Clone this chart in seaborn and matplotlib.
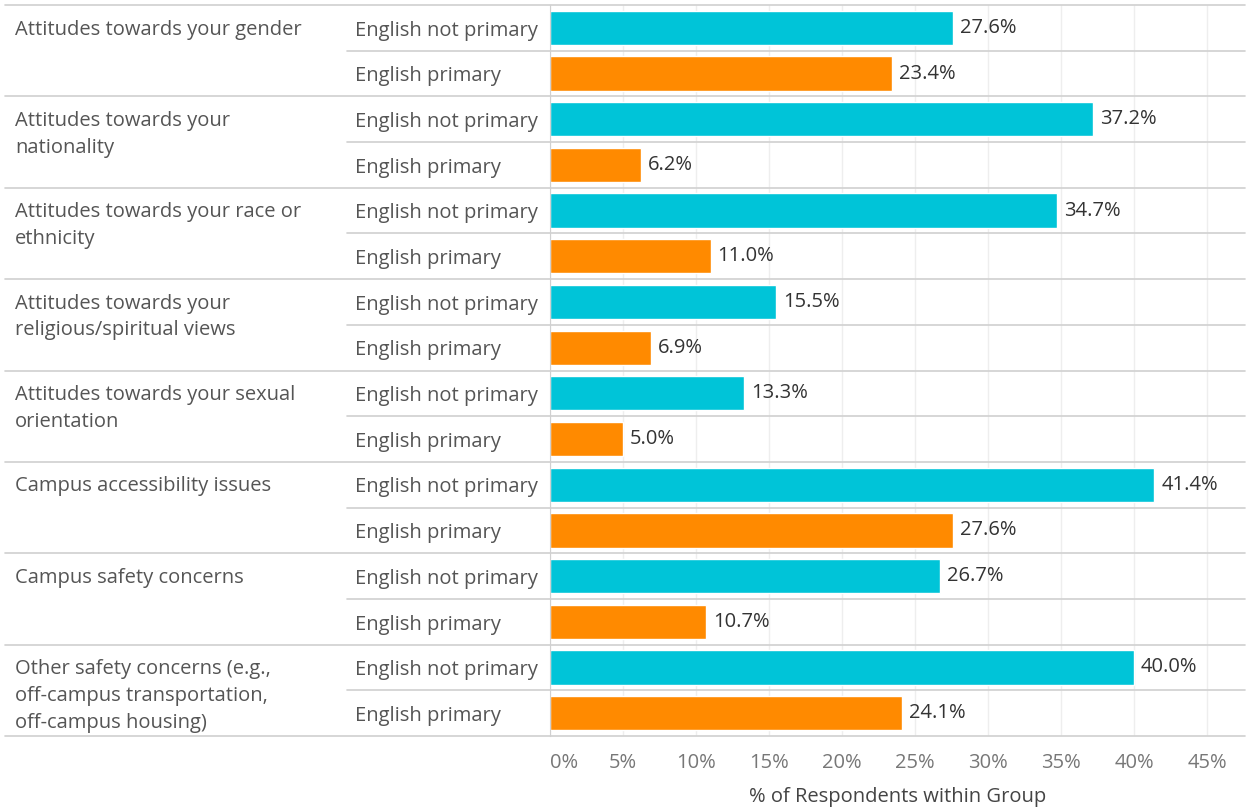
import pandas as pd
import matplotlib.pyplot as plt
import matplotlib.transforms as mtransforms
import seaborn as sns

# data
groups = [
    'Attitudes towards your gender',
    'Attitudes towards your\nnationality',
    'Attitudes towards your race or\nethnicity',
    'Attitudes towards your\nreligious/spiritual views',
    'Attitudes towards your sexual\norientation',
    'Campus accessibility issues',
    'Campus safety concerns',
    'Other safety concerns (e.g.,\noff-campus transportation,\noff-campus housing)',
]
languages = ['English not primary', 'English primary']
not_primary = [27.6, 37.2, 34.7, 15.5, 13.3, 41.4, 26.7, 40.0]
primary = [23.4, 6.2, 11.0, 6.9, 5.0, 27.6, 10.7, 24.1]
x_ticks = [0, 5, 10, 15, 20, 25, 30, 35, 40, 45]

colors = {'English not primary': '#00c4d8', 'English primary': '#ff8a00'}
text_col = '#555555'
line_col = '#d0d0d0'
fs = 14.5

df = pd.DataFrame({
    'group': groups * 2,
    'lang': [languages[0]] * len(groups) + [languages[1]] * len(groups),
    'value': not_primary + primary,
})

sns.set_style('white')
plt.rcParams['font.family'] = ['Open Sans', 'DejaVu Sans']

fig = plt.figure(figsize=(12.5, 8.1), dpi=100)
W, H = 1250, 810
left, right, top, bottom = 550, 1245, 5, 736
ax = fig.add_axes([left / W, 1 - bottom / H, (right - left) / W, (bottom - top) / H])

sns.barplot(data=df, y='group', x='value', hue='lang', order=groups,
            hue_order=languages, palette=colors, orient='h',
            width=1.0, gap=0.25, legend=False, ax=ax, saturation=1)

for cont in ax.containers:
    ax.bar_label(cont, labels=[f'{v:.1f}%' for v in cont.datavalues],
                 padding=5, fontsize=fs, color='#333333')

ax.set_xlim(0, (right - left) / 14.6)
ax.set_ylim(len(groups) - 0.5, -0.5)
ax.set_xticks(x_ticks)
ax.set_xticklabels([f'{t}%' for t in x_ticks], fontsize=fs, color='#777777')
ax.get_xticklabels()[0].set_horizontalalignment('left')
ax.tick_params(axis='x', length=0, pad=12)
ax.set_yticks([])
ax.set_ylabel('')
ax.set_xlabel('% of Respondents within Group', fontsize=fs, color='#444444', labelpad=10)
ax.xaxis.grid(True, color='#eeeeee', linewidth=1)
ax.set_axisbelow(True)
for s in ['top', 'right', 'bottom']:
    ax.spines[s].set_visible(False)
ax.spines['left'].set_color(line_col)

# row separators and labels
trans = mtransforms.blended_transform_factory(ax.transAxes, ax.transData)
x_full = (5 - left) / (right - left)
x_sub = (347 - left) / (right - left)
ax.plot([x_full, 1], [-0.5, -0.5], transform=trans, color=line_col, lw=1.2, clip_on=False)
for i, g in enumerate(groups):
    ax.plot([x_full, 1], [i + 0.5, i + 0.5], transform=trans, color=line_col, lw=1.2, clip_on=False)
    ax.plot([x_sub, 1], [i, i], transform=trans, color=line_col, lw=1.2, clip_on=False)
    ax.text((15 - left) / (right - left), i - 0.34, g, transform=trans, ha='left',
            va='top', fontsize=fs, color=text_col, linespacing=1.45)
    for j, lang in enumerate(languages):
        ax.text((355 - left) / (right - left), i - 0.22 + 0.5 * j, lang, transform=trans,
                ha='left', va='center', fontsize=fs, color=text_col)

fig.savefig('out.png', dpi=100)
